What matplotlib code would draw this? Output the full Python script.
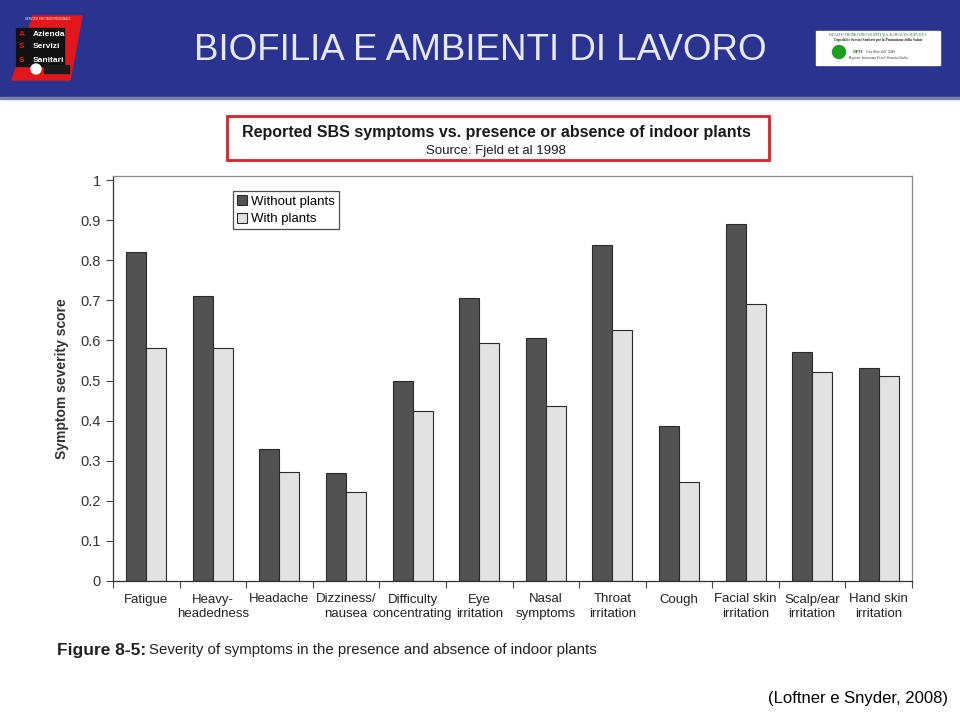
import matplotlib.pyplot as plt
import matplotlib.patches as mpatches
import numpy as np

# data (Fjeld et al 1998)
categories = ['Fatigue', 'Heavy-\nheadedness', 'Headache', 'Dizziness/\nnausea',
              'Difficulty\nconcentrating', 'Eye\nirritation', 'Nasal\nsymptoms',
              'Throat\nirritation', 'Cough', 'Facial skin\nirritation',
              'Scalp/ear\nirritation', 'Hand skin\nirritation']
without_plants = [0.82, 0.71, 0.33, 0.27, 0.50, 0.705, 0.605, 0.838, 0.387, 0.891, 0.572, 0.532]
with_plants = [0.582, 0.582, 0.272, 0.223, 0.423, 0.594, 0.436, 0.627, 0.248, 0.69, 0.52, 0.512]
yticks = [0, 0.1, 0.2, 0.3, 0.4, 0.5, 0.6, 0.7, 0.8, 0.9, 1]
ytick_labels = ['0', '0.1', '0.2', '0.3', '0.4', '0.5', '0.6', '0.7', '0.8', '0.9', '1']

plt.rcParams['font.family'] = ['Liberation Sans', 'DejaVu Sans']

fig = plt.figure(figsize=(9.6, 7.18), dpi=100)

# ---- slide background, pixel coordinates ----
bg = fig.add_axes([0, 0, 1, 1])
bg.set_xlim(0, 960)
bg.set_ylim(718, 0)
bg.axis('off')
bg.add_patch(mpatches.Rectangle((0, 0), 960, 98, color='#2a3490'))
bg.add_patch(mpatches.Rectangle((0, 97), 960, 1.5, color='#7a82aa'))
bg.text(480, 51, 'BIOFILIA E AMBIENTI DI LAVORO', color='#e6e8f8', fontsize=26.5,
        ha='center', va='center')

# left logo
bg.add_patch(mpatches.Polygon([(33, 16), (82, 16), (70, 80), (12, 80)], color='#e3161b'))
for i, (letter, word) in enumerate([('A', 'Azienda'), ('S', 'Servizi'), ('S', 'Sanitari')]):
    yy = 34 + i * 13
    bg.add_patch(mpatches.Rectangle((16, yy - 6), 48, 12, color='#111111'))
    bg.text(19, yy, letter, color='#e3161b', fontsize=6, ha='left', va='center', fontweight='bold')
    bg.text(33, yy, word, color='white', fontsize=6, ha='left', va='center', fontweight='bold')
bg.text(48, 19.5, 'SERVIZIO SANITARIO REGIONALE', color='white', fontsize=2, ha='center', va='center')
bg.add_patch(mpatches.Circle((36, 69), 5, color='white'))
bg.add_patch(mpatches.Rectangle((44, 65), 25, 8, color='#1a1a1a'))

# right logo
bg.add_patch(mpatches.Rectangle((816, 31), 124, 34, color='white'))
bg.text(878, 35, 'HEALTH PROMOTING HOSPITALS & HEALTH SERVICES', color='#2a7a2a', fontsize=2.8,
        ha='center', va='center', family='Liberation Serif')
bg.text(878, 40, 'Ospedali e Servizi Sanitari per la Promozione della Salute', color='#222222',
        fontsize=2.6, ha='center', va='center', family='Liberation Serif', fontweight='bold')
bg.add_patch(mpatches.Circle((839, 52), 6.5, color='#1ea01e'))
bg.text(853, 52, 'HPH', color='#2a7a2a', fontsize=3.5, ha='left', va='center',
        family='Liberation Serif', fontweight='bold')
bg.text(866, 52, 'Una Rete dell\' OMS', color='#333333', fontsize=2.6, ha='left', va='center',
        family='Liberation Serif', style='italic')
bg.text(878, 58, 'Regione Autonoma Friuli Venezia Giulia', color='#333333', fontsize=2.6,
        ha='center', va='center', family='Liberation Serif', style='italic')

# red title box
bg.add_patch(mpatches.Rectangle((227, 116), 542, 44, fill=False, edgecolor='#d6242a', lw=2))
bg.text(496, 132, 'Reported SBS symptoms vs. presence or absence of indoor plants',
        fontsize=11.5, fontweight='bold', ha='center', va='center', color='#1a1a1a')
bg.text(496, 151, 'Source: Fjeld et al 1998', fontsize=9.5, ha='center', va='center',
        color='#1a1a1a')

# figure caption
t = bg.text(57, 651, 'Figure 8-5:', fontsize=12.5, fontweight='bold', ha='left', va='center',
            color='#222222')
fig.canvas.draw()
ext = t.get_window_extent()
x_end = ext.x1 / fig.dpi / 9.6 * 960
bg.text(x_end + 3, 650, 'Severity of symptoms in the presence and absence of indoor plants',
        fontsize=10.8, ha='left', va='center', color='#222222')
bg.text(948, 699, '(Loftner e Snyder, 2008)', fontsize=12, ha='right', va='center', color='black')

# ---- the chart ----
ax = fig.add_axes([113 / 960, 1 - 581 / 718, 799 / 960, 405 / 718])
x = np.arange(len(categories))
w = 0.3
ax.bar(x - w / 2, without_plants, w, color='#525252', edgecolor='#2a2a2a', lw=0.8,
       label='Without plants')
ax.bar(x + w / 2, with_plants, w, color='#e2e2e2', edgecolor='#2a2a2a', lw=0.8,
       label='With plants')
ax.set_xlim(-0.5, len(categories) - 0.5)
ax.set_ylim(0, 1.01)
ax.set_yticks(yticks)
ax.set_yticklabels(ytick_labels, fontsize=10.5, color='#333333')
ax.set_xticks(np.arange(len(categories) + 1) - 0.5)
ax.set_xticklabels([])
ax.set_xticks(x, minor=True)
ax.set_xticklabels(categories, minor=True, fontsize=9.5, color='#222222', linespacing=1.25)
ax.tick_params(axis='x', which='minor', length=0, pad=9)
ax.tick_params(axis='x', which='major', direction='out', length=5, width=0.8, color='#444444')
ax.tick_params(axis='y', direction='out', length=5, width=0.8, color='#444444', pad=4)
for s in ['left', 'bottom']:
    ax.spines[s].set_color('#333333')
    ax.spines[s].set_linewidth(0.9)
for s in ['top', 'right']:
    ax.spines[s].set_color('#8a8a8a')
    ax.spines[s].set_linewidth(0.9)
ax.set_ylabel('Symptom severity score', fontsize=10, fontweight='bold', color='#333333',
              labelpad=8)

leg = ax.legend(loc='upper left', bbox_to_anchor=(0.15, 0.962), frameon=True,
                fancybox=False, edgecolor='#222222', handlelength=0.8, handleheight=0.8,
                handletextpad=0.3, borderpad=0.3, labelspacing=0.35, borderaxespad=0,
                prop={'size': 9.5})
leg.get_frame().set_linewidth(0.9)

fig.savefig('out.png', dpi=100)
